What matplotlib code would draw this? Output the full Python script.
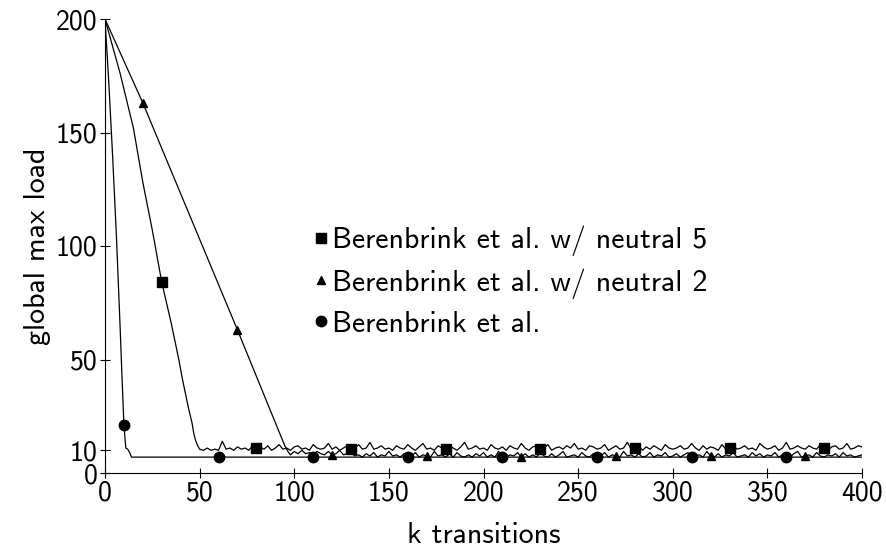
import numpy as np
import matplotlib
matplotlib.use('Agg')
import matplotlib.pyplot as plt
from matplotlib.lines import Line2D

plt.rcParams['font.family'] = ['cmss10', 'DejaVu Sans']
plt.rcParams['axes.unicode_minus'] = False

# --- data ---
# Berenbrink et al. (circles)
circ_x = [0, 2, 4, 6, 8, 9, 10, 11, 12, 13, 14, 400]
circ_y = [200, 172, 140, 105, 64, 42, 21, 11, 10.5, 9, 7, 7]

# neutral 5 (squares): descent then noisy plateau (x = 50, 52, ... 400)
sq_head_x = [0, 8, 15, 20, 25, 30, 35, 39, 41, 43, 44, 46, 47, 48, 49]
sq_head_y = [200, 176, 152, 128, 107, 84, 66, 50, 41, 33, 29, 22, 17, 14, 12]
sq_noise = [
    10.5, 10, 11, 10, 10.5, 10, 14, 10.5, 11, 10, 11.5, 10.5, 11, 10, 12, 11,
    11.5, 10.5, 12, 10, 11, 12.5, 10.5, 11, 10, 11.5, 12, 10.5, 11, 10, 12.5, 11,
    10.5, 11, 13, 10.5, 11.5, 10, 11, 12, 10.5, 11, 12.5, 10.5, 11, 13.5, 10.5, 11,
    12, 10.5, 11, 10, 12, 11, 10.5, 12.5, 11, 10, 11.5, 13, 10.5, 11, 10, 12,
    11, 10.5, 12, 11, 10, 11.5, 13.5, 10.5, 11, 12, 10.5, 11, 10, 12.5, 11, 10.5,
    11.5, 10, 12, 11, 10.5, 13, 11, 10, 11.5, 12, 10.5, 11, 12.5, 10, 11, 11.5,
    10.5, 12, 11, 13, 10.5, 11, 10, 12, 11.5, 10.5, 11, 12.5, 10, 11, 12, 10.5,
    11, 13.5, 10.5, 11, 12, 10, 11.5, 10.5, 12, 11, 10, 12.5, 11, 10.5, 11, 12,
    10.5, 11, 13, 11, 10, 12, 10.5, 11.5, 11, 10, 12.5, 10.5, 11, 12, 10.5, 11,
    12, 10.5, 11, 10, 13, 11.5, 10.5, 11, 12, 10, 11, 13.5, 10.5, 11, 12, 11,
    10.5, 12, 11, 10.5, 12.5, 11, 10, 11.5, 12, 10.5, 11, 13, 10.5, 11, 12, 11.5,
]

# neutral 2 (triangles): linear descent then noisy plateau (x = 98, 100, ... 400)
tri_head_x = [0, 20, 70, 95, 97]
tri_head_y = [200, 163, 63, 12, 9]
tri_noise = [
    8, 9.5, 8.5, 10, 8.5, 9, 8, 9.5, 8.5, 8, 9.5, 8, 8.5, 10, 8, 8.5,
    9, 7.5, 8, 7, 8.5, 7.5, 9, 7, 8, 7.5, 9.5, 7.5, 8, 7, 8.5, 7,
    7.5, 9, 7, 8, 7.5, 7, 9.5, 7.5, 8, 7, 8.5, 7, 9, 7.5, 7, 8,
    7, 8.5, 7.5, 9, 7, 8, 7, 9.5, 7.5, 7, 8, 7.5, 9, 7, 8.5, 7,
    8, 7, 9, 7.5, 7, 8.5, 7, 8, 9.5, 7, 7.5, 8, 7, 9, 7.5, 7,
    8.5, 7, 7.5, 9, 7, 8, 7.5, 7, 9.5, 7.5, 8, 7, 8.5, 7, 7.5, 9,
    7, 8, 7.5, 9, 7, 7.5, 8.5, 7, 8, 9, 7, 7.5, 8, 7, 9.5, 7.5,
    7, 8.5, 7, 8, 7.5, 9, 7, 7.5, 8, 7, 9, 7.5, 8.5, 7, 8, 7.5,
    9, 7, 8, 7.5, 7, 8.5, 9.5, 7, 7.5, 8, 7, 9, 7.5, 7, 8, 7.5,
    8.5, 7, 9, 7.5, 8, 7, 7.5, 8,
]

circ_marks = [10, 60, 110, 160, 210, 260, 310, 360]
tri_marks = [20, 70, 120, 170, 220, 270, 320, 370]
sq_marks = [30, 80, 130, 180, 230, 280, 330, 380]

sq_x = np.concatenate([sq_head_x, 50 + 2 * np.arange(len(sq_noise))])
sq_y = np.concatenate([sq_head_y, sq_noise])
tri_x = np.concatenate([tri_head_x, 98 + 2 * np.arange(len(tri_noise))])
tri_y = np.concatenate([tri_head_y, tri_noise])

fig = plt.figure(figsize=(8.86, 5.51), dpi=100)
ax = fig.add_axes([105 / 886, 1 - 473 / 551, 757 / 886, 454 / 551])

lw = 0.9
ax.plot(sq_x, sq_y, color='black', lw=lw)
ax.plot(tri_x, tri_y, color='black', lw=lw)
ax.plot(circ_x, circ_y, color='black', lw=lw)

ax.plot(sq_marks, np.interp(sq_marks, sq_x, sq_y), 's', color='black', ms=7, ls='none')
ax.plot(tri_marks, np.interp(tri_marks, tri_x, tri_y), '^', color='black', ms=6, ls='none')
ax.plot(circ_marks, np.interp(circ_marks, circ_x, circ_y), 'o', color='black', ms=7.5, ls='none')

ax.set_xlim(0, 400)
ax.set_ylim(0, 200)
ax.set_xticks([0, 50, 100, 150, 200, 250, 300, 350, 400])
ax.set_yticks([0, 10, 50, 100, 150, 200])
ax.spines['top'].set_visible(False)
ax.spines['right'].set_visible(False)
ax.tick_params(direction='inout', length=7, width=0.8, labelsize=20, pad=2)
ax.set_xlabel('k transitions', fontsize=21.5, labelpad=12)
ax.set_ylabel('global max load', fontsize=21.5, labelpad=3)

handles = [
    Line2D([], [], marker='s', color='black', ls='none', ms=7),
    Line2D([], [], marker='^', color='black', ls='none', ms=6),
    Line2D([], [], marker='o', color='black', ls='none', ms=7.5),
]
labels = ['Berenbrink et al. w/ neutral 5', 'Berenbrink et al. w/ neutral 2', 'Berenbrink et al.']
ax.legend(handles, labels, loc='upper left', bbox_to_anchor=(314 / 886, 1 - 226 / 551),
          bbox_transform=fig.transFigure, frameon=False, fontsize=21.5,
          handlelength=0.5, handletextpad=0.1, labelspacing=0.4, borderpad=0, borderaxespad=0)

fig.savefig('out.png', dpi=100)
